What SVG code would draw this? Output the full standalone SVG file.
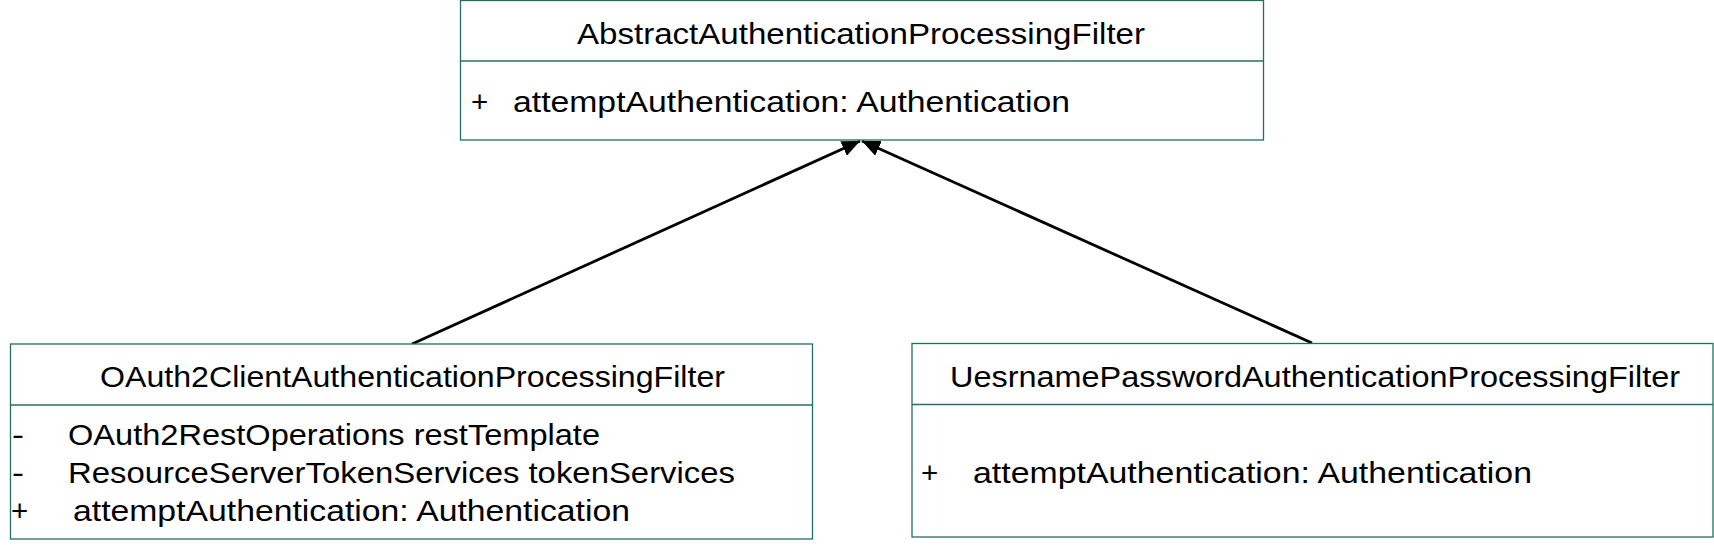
<svg xmlns="http://www.w3.org/2000/svg" width="1714" height="550" viewBox="0 0 1714 550">
<style>
  .box { fill: #ffffff; stroke: #23705f; stroke-width: 1.3; }
  .div { stroke: #23705f; stroke-width: 1.3; }
  .t { font-family: "Liberation Sans", Arial, sans-serif; font-size: 29.5px; fill: #000000; }
  .conn { stroke: #000000; stroke-width: 2.8; fill: none; }
</style>
<defs>
  <marker id="arrow" markerUnits="userSpaceOnUse" markerWidth="20" markerHeight="16" refX="18" refY="8" orient="auto">
    <path d="M0,0 L18,8 L0,16 Z" fill="#000000"/>
  </marker>
</defs>
<rect width="1714" height="550" fill="#ffffff"/>

<g id="connectors">
  <line class="conn" x1="412" y1="344" x2="860" y2="141" marker-end="url(#arrow)"/>
  <line class="conn" x1="1312" y1="343" x2="862" y2="141" marker-end="url(#arrow)"/>
</g>

<g id="node-abstract">
  <rect class="box" x="460.5" y="0.5" width="803" height="139.5"/>
  <line class="div" x1="460.5" y1="61" x2="1263.5" y2="61"/>
  <text class="t" x="577" y="44" textLength="568" lengthAdjust="spacingAndGlyphs">AbstractAuthenticationProcessingFilter</text>
  <text class="t" x="471" y="112">+</text>
  <text class="t" x="513" y="112" textLength="557" lengthAdjust="spacingAndGlyphs">attemptAuthentication: Authentication</text>
</g>

<g id="node-oauth2">
  <rect class="box" x="10.5" y="344" width="802" height="195"/>
  <line class="div" x1="10.5" y1="405" x2="812.5" y2="405"/>
  <text class="t" x="100" y="387" textLength="625" lengthAdjust="spacingAndGlyphs">OAuth2ClientAuthenticationProcessingFilter</text>
  <text class="t" x="12" y="445" textLength="12" lengthAdjust="spacingAndGlyphs">-</text>
  <text class="t" x="68" y="445" textLength="532" lengthAdjust="spacingAndGlyphs">OAuth2RestOperations restTemplate</text>
  <text class="t" x="12" y="483" textLength="12" lengthAdjust="spacingAndGlyphs">-</text>
  <text class="t" x="68" y="483" textLength="667" lengthAdjust="spacingAndGlyphs">ResourceServerTokenServices tokenServices</text>
  <text class="t" x="11" y="521">+</text>
  <text class="t" x="73" y="521" textLength="557" lengthAdjust="spacingAndGlyphs">attemptAuthentication: Authentication</text>
</g>

<g id="node-username">
  <rect class="box" x="912" y="343.5" width="801" height="193.5"/>
  <line class="div" x1="912" y1="404.5" x2="1713" y2="404.5"/>
  <text class="t" x="950" y="387" textLength="730" lengthAdjust="spacingAndGlyphs">UesrnamePasswordAuthenticationProcessingFilter</text>
  <text class="t" x="921" y="483">+</text>
  <text class="t" x="973" y="483" textLength="559" lengthAdjust="spacingAndGlyphs">attemptAuthentication: Authentication</text>
</g>
</svg>
